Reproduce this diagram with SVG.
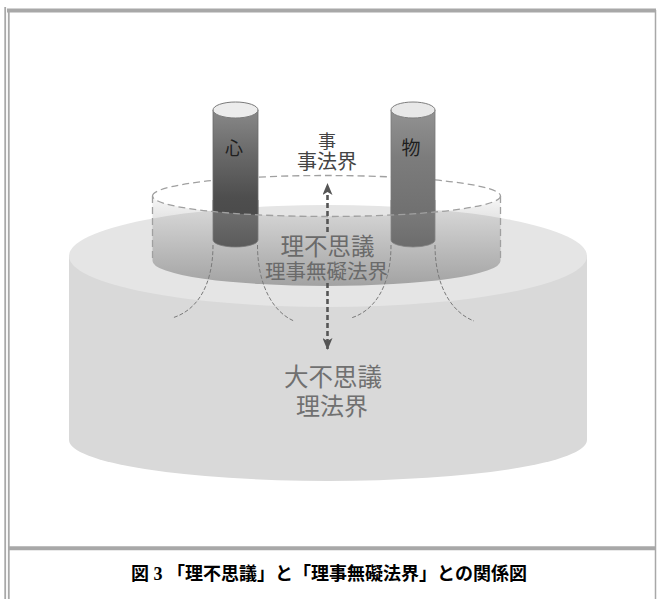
<svg xmlns="http://www.w3.org/2000/svg" width="660" height="599" viewBox="0 0 660 599">
<style>
.frame{stroke:#a8a8a8;fill:none}
.dash{fill:none;stroke:#a0a0a0;stroke-width:1.3;stroke-dasharray:7 4}
.field{fill:none;stroke:#7a7a7a;stroke-width:1;stroke-dasharray:4 2}
.lbl{font-family:"Liberation Sans","Noto Sans CJK JP","Noto Sans CJK SC",sans-serif;text-anchor:middle}
.cap{font-family:"Liberation Serif","Noto Sans CJK JP",serif;font-weight:bold;font-size:18px;text-anchor:middle;fill:#000}
</style>
<defs>
<linearGradient id="gHeart" gradientUnits="userSpaceOnUse" x1="0" y1="102" x2="0" y2="214">
<stop offset="0" stop-color="#8e8e8e"/><stop offset="0.45" stop-color="#6a6a6a"/><stop offset="0.85" stop-color="#4e4e4e"/><stop offset="1" stop-color="#4b4b4b"/>
</linearGradient>
<linearGradient id="gHeartLow" gradientUnits="userSpaceOnUse" x1="0" y1="212" x2="0" y2="248">
<stop offset="0" stop-color="#6e6e6e"/><stop offset="1" stop-color="#5a5a5a"/>
</linearGradient>
<linearGradient id="gThing" gradientUnits="userSpaceOnUse" x1="0" y1="102" x2="0" y2="214">
<stop offset="0" stop-color="#969696"/><stop offset="0.5" stop-color="#7c7c7c"/><stop offset="1" stop-color="#707070"/>
</linearGradient>
<linearGradient id="gThingLow" gradientUnits="userSpaceOnUse" x1="0" y1="212" x2="0" y2="248">
<stop offset="0" stop-color="#7a7a7a"/><stop offset="1" stop-color="#6c6c6c"/>
</linearGradient>
<linearGradient id="gInner" gradientUnits="userSpaceOnUse" x1="0" y1="190" x2="0" y2="287">
<stop offset="0" stop-color="#888888" stop-opacity="0.02"/><stop offset="1" stop-color="#888888" stop-opacity="0.72"/>
</linearGradient>
<clipPath id="aboveLid">
<path d="M0,0 L660,0 L660,196 L500.5,196 A174,20.5 0 0 1 152.5,196 L0,196 Z"/>
</clipPath>
<marker id="ah" viewBox="0 0 12 10" refX="11" refY="5" markerWidth="12" markerHeight="10" markerUnits="userSpaceOnUse" orient="auto-start-reverse">
<path d="M0,0 L12,5 L0,10 L3,5 Z" fill="#555"/>
</marker>
</defs>

<g id="frame">
<line class="frame" x1="7" y1="10.5" x2="656" y2="10.5" stroke-width="4"/>
<line class="frame" x1="5.2" y1="7" x2="5.2" y2="599" stroke-width="1.8"/>
<line class="frame" x1="8.8" y1="12" x2="8.8" y2="599" stroke-width="1.8"/>
<line class="frame" x1="655.5" y1="10" x2="655.5" y2="599" stroke-width="1.5"/>
<line class="frame" x1="9" y1="548.3" x2="656" y2="548.3" stroke-width="4"/>
</g>

<g id="base-cylinder">
<path d="M69,256 L69,440 A259,41 0 0 0 587,440 L587,256 Z" fill="#d9d9d9"/>
<ellipse cx="328" cy="256" rx="259" ry="51" fill="#e5e5e5"/>
</g>

<g id="inner-cylinder">
<path class="dash" d="M152.5,196 A174,20.5 0 0 1 500.5,196"/>
<path d="M152.5,196 L152.5,261 A174,25 0 0 0 500.5,261 L500.5,196 A174,20.5 0 0 1 152.5,196 Z" fill="url(#gInner)"/>
</g>

<g id="pillar-heart">
<path d="M213,200 L213,240 A22.5,7 0 0 0 258,240 L258,200 Z" fill="url(#gHeartLow)" stroke="#7a7a7a" stroke-width="0.8"/>
<path d="M213,110 L213,240 A22.5,7 0 0 0 258,240 L258,110 Z" fill="url(#gHeart)" stroke="#6a6a6a" stroke-width="0.8" clip-path="url(#aboveLid)"/>
<ellipse cx="235.5" cy="110" rx="22.5" ry="8" fill="#ececec" stroke="#7a7a7a" stroke-width="1"/>
</g>

<g id="pillar-thing">
<path d="M391,200 L391,240 A22,7 0 0 0 435,240 L435,200 Z" fill="url(#gThingLow)" stroke="#848484" stroke-width="0.8"/>
<path d="M391,110 L391,240 A22,7 0 0 0 435,240 L435,110 Z" fill="url(#gThing)" stroke="#7a7a7a" stroke-width="0.8" clip-path="url(#aboveLid)"/>
<ellipse cx="413" cy="110" rx="22" ry="8" fill="#e8e8e8" stroke="#7e7e7e" stroke-width="1"/>
</g>

<g id="inner-front">
<path class="dash" d="M500.5,196 A174,20.5 0 0 1 152.5,196"/>
<line class="dash" x1="152.5" y1="196" x2="152.5" y2="261"/>
<line class="dash" x1="500.5" y1="196" x2="500.5" y2="261"/>
</g>

<g id="connectors">
<path class="field" d="M213,245 C213,287 196,311 172,318"/>
<path class="field" d="M257.5,245 C257.5,288 275,313 294,321"/>
<path class="field" d="M391,245 C391,287 374,311 351,318"/>
<path class="field" d="M435,245 C435,288 453,313 474,321"/>
<line x1="327.5" y1="232" x2="327.5" y2="184" stroke="#555" stroke-width="2.6" stroke-dasharray="5 3" marker-end="url(#ah)"/>
<line x1="327.5" y1="283" x2="327.5" y2="349" stroke="#555" stroke-width="2.6" stroke-dasharray="5 3" marker-end="url(#ah)"/>
</g>

<g id="labels">
<text class="lbl" x="234" y="155" font-size="18" fill="#1e1e1e">心</text>
<text class="lbl" x="411" y="155" font-size="19" fill="#1e1e1e">物</text>
<text class="lbl" x="327" y="148" font-size="18" fill="#444">事</text>
<text class="lbl" x="327" y="169" font-size="20" fill="#444">事法界</text>
<text class="lbl" x="327.5" y="255" font-size="23.5" fill="#6a6a6a">理不思議</text>
<text class="lbl" x="326.5" y="279" font-size="20.5" fill="#6a6a6a">理事無礙法界</text>
<text class="lbl" x="333" y="386" font-size="24.5" fill="#707070">大不思議</text>
<text class="lbl" x="332" y="415" font-size="24" fill="#707070">理法界</text>
</g>

<g id="caption">
<text class="cap" x="329" y="580">図 3 「理不思議」と「理事無礙法界」との関係図</text>
</g>
</svg>
